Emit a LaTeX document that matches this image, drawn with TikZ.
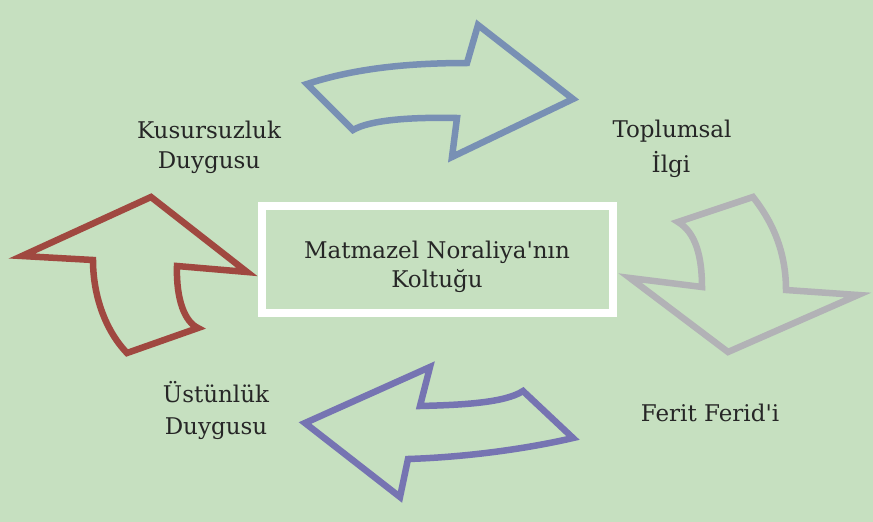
\documentclass[tikz,border=0pt]{standalone}
\usepackage{fontspec}
\setmainfont{DejaVu Serif}[Ligatures=TeXOff]
\definecolor{bg}{HTML}{C6E0C0}
\definecolor{arrblue}{HTML}{7890B4}
\definecolor{arrgray}{HTML}{B2B2B6}
\definecolor{arrpurple}{HTML}{7674B2}
\definecolor{arrred}{HTML}{A04840}
\definecolor{txt}{HTML}{262626}
\begin{document}
\begin{tikzpicture}[x=1pt,y=-1pt,
  arrowshape/.style={line width=6.5pt, line join=miter, miter limit=10},
  lbl/.style={anchor=base, inner sep=0pt, text=txt, font=\fontsize{23}{27}\selectfont},
  boxlbl/.style={anchor=base, inner sep=0pt, text=txt, font=\fontsize{23}{27}\selectfont},
  centerbox/.style={draw=white, line width=8pt, fill=bg, minimum width=351.5pt, minimum height=107pt, inner sep=0pt}]
\useasboundingbox (0,0) rectangle (873,522);
\fill[bg] (0,0) rectangle (873,522);

% top (blue) arrow
\draw[arrowshape, draw=arrblue] (307,84) .. controls (350,70) and (400,63) .. (467,63)
  -- (478,25) -- (573,99) -- (452,157) -- (457,118)
  .. controls (410,117) and (370,120) .. (353,130) -- cycle;

% right (gray) arrow
\draw[arrowshape, draw=arrgray] (678,222) -- (753,197)
  .. controls (775,225) and (786,255) .. (786,290)
  -- (858,295) -- (728,352) -- (630,278) -- (702,287)
  .. controls (702,255) and (695,232) .. (678,222) -- cycle;

% bottom (purple) arrow
\draw[arrowshape, draw=arrpurple] (430,367) -- (305,423) -- (400,497) -- (408,459)
  .. controls (470,457) and (530,448) .. (573,438)
  -- (523,391)
  .. controls (505,403) and (460,405) .. (420,406) -- cycle;

% left (red) arrow
\draw[arrowshape, draw=arrred] (151,197) -- (247,272) -- (177,266)
  .. controls (176,300) and (185,322) .. (198,328)
  -- (127,353)
  .. controls (105,330) and (93,295) .. (93,260)
  -- (22,256) -- cycle;

% centre box
\node[centerbox] (box) at (437.25,259.5) {};
\node[boxlbl] (box1) at (437,258) {Matmazel Noraliya'nın};
\node[boxlbl] (box2) at (437,287) {Koltuğu};

% labels
\node[lbl] (kus1) at (209,138) {Kusursuzluk};
\node[lbl] (kus2) at (209,168) {Duygusu};
\node[lbl] (top1) at (672,137) {Toplumsal};
\node[lbl] (top2) at (671,172) {İlgi};
\node[lbl] (fer) at (710,421) {Ferit Ferid'i};
\node[lbl] (ust1) at (216,402) {Üstünlük};
\node[lbl] (ust2) at (216,434) {Duygusu};
\end{tikzpicture}
\end{document}
